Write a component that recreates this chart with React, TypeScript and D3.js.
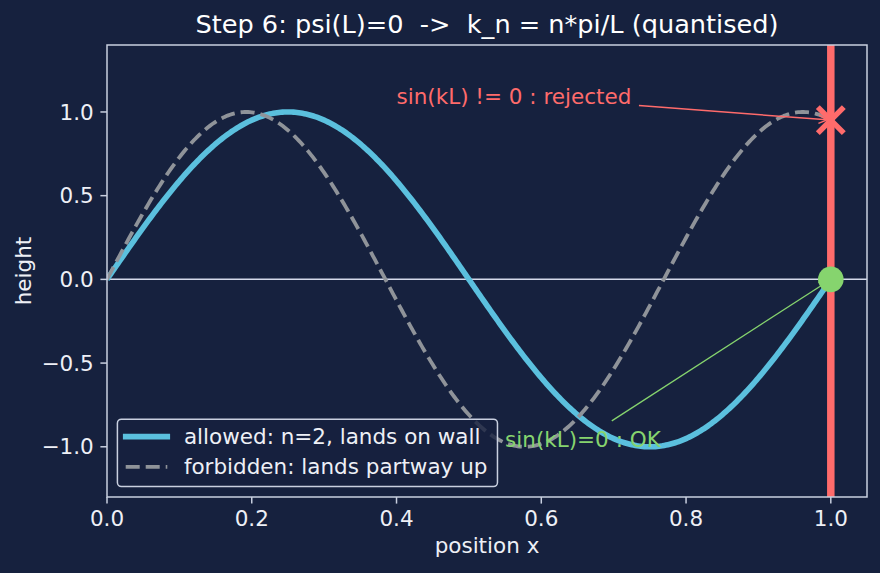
import React, { useEffect, useRef } from 'react';
import * as d3 from 'd3';

const WIDTH = 880;
const HEIGHT = 573;
const MARGIN = { top: 45, right: 13, bottom: 76, left: 107 };

const FONT = '"DejaVu Sans", Verdana, sans-serif';
const FS = 21.5; // base font size in px
const TITLE_FS = 25.6;

// box length
const L = 1.0;

// wave numbers, in units of pi/L
const SERIES_KEYS = ['allowed', 'forbidden'];
const SERIES_K = [2, 2.6];
const SERIES_LABELS = ['allowed: n=2, lands on wall', 'forbidden: lands partway up'];
const SERIES_COLORS = ['#5bc0de', '#8f9399'];
const SERIES_WIDTHS = [5.6, 3.8];
const SERIES_DASH = ['', '14,6'];

const X_TICKS = [0, 0.2, 0.4, 0.6, 0.8, 1.0];
const Y_TICKS = [-1.0, -0.5, 0, 0.5, 1.0];
const X_DOMAIN: [number, number] = [0, 1.05];
const Y_DOMAIN: [number, number] = [-1.3, 1.4];
const N_SAMPLES = 400;

const TITLE = 'Step 6: psi(L)=0  ->  k_n = n*pi/L (quantised)';
const X_LABEL = 'position x';
const Y_LABEL = 'height';

const REJECT_TEXT = 'sin(kL) != 0 : rejected';
const REJECT_AT: [number, number] = [0.4, 1.05];
const OK_TEXT = 'sin(kL)=0 : OK';
const OK_AT: [number, number] = [0.55, -1.0];

const BG = '#16213e';
const FG = '#c9d0e0';
const TEXT = '#eef0f6';
const RED = '#ff6b6b';
const GREEN = '#86d46e';

const psi = (k: number, v: number) => Math.sin((k * Math.PI * v) / L);

// where the segment from the box centre towards (tx, ty) leaves the padded box
const arrowPath = (
  box: { x: number; y: number; width: number; height: number },
  tx: number,
  ty: number,
  pad: number,
  shrink: number
) => {
  const cx = box.x + box.width / 2;
  const cy = box.y + box.height / 2;
  const dx = tx - cx;
  const dy = ty - cy;
  const len = Math.hypot(dx, dy);
  const ux = dx / len;
  const uy = dy / len;
  const hw = box.width / 2 + pad;
  const hh = box.height / 2 + pad;
  const t = Math.min(Math.abs(dx) > 0 ? hw / Math.abs(dx) : Infinity, Math.abs(dy) > 0 ? hh / Math.abs(dy) : Infinity);
  const sx = cx + dx * t + ux * shrink;
  const sy = cy + dy * t + uy * shrink;
  const ex = tx - ux * shrink;
  const ey = ty - uy * shrink;
  return { sx, sy, ex, ey, ux, uy };
};

const App = () => {
  const ref = useRef<SVGSVGElement>(null);

  useEffect(() => {
    if (!ref.current) return;
    const svg = d3.select(ref.current);
    svg.selectAll('*').remove();

    const x = d3.scaleLinear().domain(X_DOMAIN).range([MARGIN.left, WIDTH - MARGIN.right]);
    const y = d3.scaleLinear().domain(Y_DOMAIN).range([HEIGHT - MARGIN.bottom, MARGIN.top]);
    const [x0, x1] = x.range();
    const [y0, y1] = y.range(); // y0 bottom, y1 top

    svg.append('rect').attr('width', WIDTH).attr('height', HEIGHT).attr('fill', BG);

    svg
      .append('defs')
      .append('clipPath')
      .attr('id', 'plot-area')
      .append('rect')
      .attr('x', x0)
      .attr('y', y1)
      .attr('width', x1 - x0)
      .attr('height', y0 - y1);

    const plot = svg.append('g').attr('clip-path', 'url(#plot-area)');

    // zero line
    plot
      .append('line')
      .attr('x1', x0)
      .attr('x2', x1)
      .attr('y1', y(0))
      .attr('y2', y(0))
      .attr('stroke', '#d4daea')
      .attr('stroke-width', 1.5);

    const xs = d3.range(N_SAMPLES + 1).map((i) => (i / N_SAMPLES) * L);

    SERIES_KEYS.forEach((key, i) => {
      const line = d3
        .line<number>()
        .x((v) => x(v))
        .y((v) => y(psi(SERIES_K[i], v)));
      plot
        .append('path')
        .attr('class', key)
        .attr('d', line(xs) as string)
        .attr('fill', 'none')
        .attr('stroke', SERIES_COLORS[i])
        .attr('stroke-width', SERIES_WIDTHS[i])
        .attr('stroke-dasharray', SERIES_DASH[i] || null)
        .attr('stroke-linejoin', 'round');
    });

    // the wall at x = L
    plot
      .append('line')
      .attr('x1', x(L))
      .attr('x2', x(L))
      .attr('y1', y1)
      .attr('y2', y0)
      .attr('stroke', RED)
      .attr('stroke-width', 7.5);

    // annotations
    const annotate = (label: string, at: [number, number], color: string, tx: number, ty: number, lw: number) => {
      const t = svg
        .append('text')
        .attr('x', x(at[0]))
        .attr('y', y(at[1]))
        .attr('fill', color)
        .attr('font-size', FS)
        .text(label);
      const box = (t.node() as SVGTextElement).getBBox();
      const a = arrowPath(box, tx, ty, 3.8, 3.8);
      const g = svg.append('g').attr('stroke', color).attr('stroke-width', lw).attr('fill', 'none');
      g.append('line').attr('x1', a.sx).attr('y1', a.sy).attr('x2', a.ex).attr('y2', a.ey);
      const hl = 8.3;
      const hw = 4.2;
      const bx = a.ex - a.ux * hl;
      const by = a.ey - a.uy * hl;
      g.append('path').attr(
        'd',
        `M${bx - a.uy * hw},${by + a.ux * hw}L${a.ex},${a.ey}L${bx + a.uy * hw},${by - a.ux * hw}`
      );
    };

    annotate(REJECT_TEXT, REJECT_AT, RED, x(L), y(psi(SERIES_K[1], L)), 1.5);
    annotate(OK_TEXT, OK_AT, GREEN, x(L), y(psi(SERIES_K[0], L)), 1.3);

    // end-point markers
    const mx = x(L);
    const my = y(psi(SERIES_K[1], L));
    const s = 13;
    svg
      .append('path')
      .attr('d', `M${mx - s},${my - s}L${mx + s},${my + s}M${mx - s},${my + s}L${mx + s},${my - s}`)
      .attr('stroke', RED)
      .attr('stroke-width', 5.5)
      .attr('fill', 'none');
    svg
      .append('circle')
      .attr('cx', x(L))
      .attr('cy', y(psi(SERIES_K[0], L)))
      .attr('r', 12.8)
      .attr('fill', GREEN);

    // spines
    svg
      .append('rect')
      .attr('x', x0)
      .attr('y', y1)
      .attr('width', x1 - x0)
      .attr('height', y0 - y1)
      .attr('fill', 'none')
      .attr('stroke', FG)
      .attr('stroke-width', 1.5);

    // ticks
    const tickLen = 6.6;
    const xAxis = svg.append('g');
    X_TICKS.forEach((v) => {
      xAxis
        .append('line')
        .attr('x1', x(v))
        .attr('x2', x(v))
        .attr('y1', y0)
        .attr('y2', y0 + tickLen)
        .attr('stroke', FG)
        .attr('stroke-width', 1.5);
      xAxis
        .append('text')
        .attr('x', x(v))
        .attr('y', y0 + 29)
        .attr('text-anchor', 'middle')
        .attr('fill', TEXT)
        .attr('font-size', FS)
        .text(d3.format('.1f')(v));
    });
    const yAxis = svg.append('g');
    Y_TICKS.forEach((v) => {
      yAxis
        .append('line')
        .attr('x1', x0 - tickLen)
        .attr('x2', x0)
        .attr('y1', y(v))
        .attr('y2', y(v))
        .attr('stroke', FG)
        .attr('stroke-width', 1.5);
      yAxis
        .append('text')
        .attr('x', x0 - tickLen - 6.6)
        .attr('y', y(v) + 7.6)
        .attr('text-anchor', 'end')
        .attr('fill', TEXT)
        .attr('font-size', FS)
        .text(d3.format('.1f')(v).replace('-', '\u2212'));
    });

    // labels and title
    svg
      .append('text')
      .attr('x', (x0 + x1) / 2)
      .attr('y', y0 + 56)
      .attr('text-anchor', 'middle')
      .attr('fill', TEXT)
      .attr('font-size', FS)
      .text(X_LABEL);
    svg
      .append('text')
      .attr('transform', `translate(31, ${(y0 + y1) / 2}) rotate(-90)`)
      .attr('text-anchor', 'middle')
      .attr('fill', TEXT)
      .attr('font-size', FS)
      .text(Y_LABEL);
    svg
      .append('text')
      .attr('x', (x0 + x1) / 2)
      .attr('y', 33)
      .attr('text-anchor', 'middle')
      .attr('fill', '#ffffff')
      .attr('font-size', TITLE_FS)
      .style('white-space', 'pre')
      .text(TITLE);

    // legend, lower left
    const pad = 10.4;
    const border = 8.3;
    const borderRight = 10;
    const handle = 41.6;
    const gap = 16.6;
    const rowH = 30.3;
    const legend = svg.append('g');
    const frame = legend.append('rect');
    const texts = SERIES_LABELS.map((lab) =>
      legend.append('text').attr('fill', TEXT).attr('font-size', FS).text(lab)
    );
    const textW = d3.max(texts, (t) => (t.node() as SVGTextElement).getComputedTextLength()) as number;
    const boxW = border + handle + gap + textW + borderRight;
    const boxH = 67.4;
    const bx = x0 + pad;
    const by = y0 - pad - boxH;
    frame
      .attr('x', bx)
      .attr('y', by)
      .attr('width', boxW)
      .attr('height', boxH)
      .attr('rx', 4)
      .attr('fill', BG)
      .attr('fill-opacity', 0.8)
      .attr('stroke', FG)
      .attr('stroke-width', 1.5);
    SERIES_KEYS.forEach((key, i) => {
      const cy = by + 17.4 + i * rowH;
      legend
        .append('line')
        .attr('x1', bx + border)
        .attr('x2', bx + border + handle)
        .attr('y1', cy)
        .attr('y2', cy)
        .attr('stroke', SERIES_COLORS[i])
        .attr('stroke-width', SERIES_WIDTHS[i])
        .attr('stroke-dasharray', SERIES_DASH[i] || null)
        .attr('stroke-linecap', SERIES_DASH[i] ? 'butt' : 'square');
      texts[i].attr('x', bx + border + handle + gap).attr('y', cy + 7.3);
    });
  }, []);

  return (
    <svg
      ref={ref}
      width={WIDTH}
      height={HEIGHT}
      style={{ position: 'absolute', left: 0, top: 0, fontFamily: FONT }}
    />
  );
};

export default App;
